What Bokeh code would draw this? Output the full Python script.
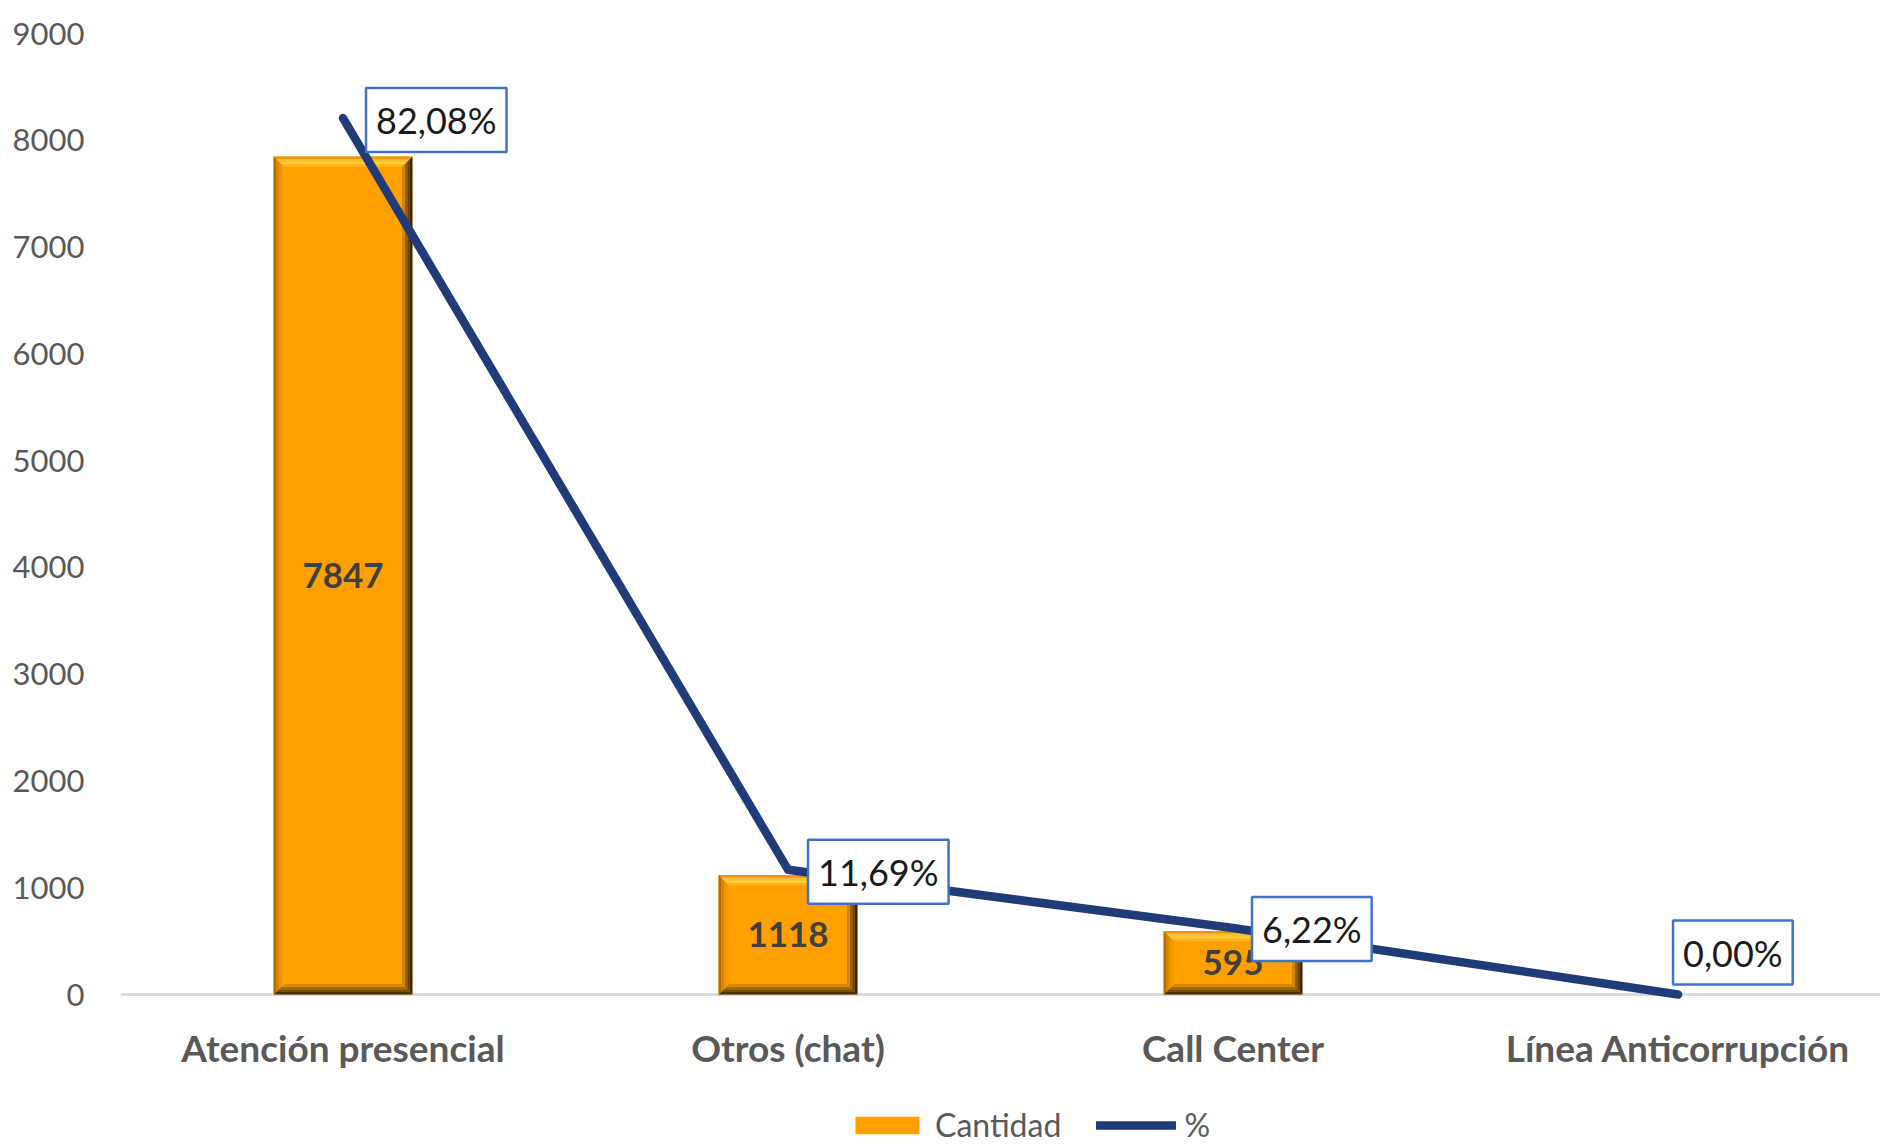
import numpy as np
from bokeh.plotting import figure
from bokeh.models import Range1d, FixedTicker, Label, Legend, LegendItem, Span
from bokeh.core.properties import value
from bokeh.embed import file_html
from bokeh.resources import INLINE

# ---- data ----
categories = ["Atención presencial", "Otros (chat)", "Call Center", "Línea Anticorrupción"]
cantidad = [7847, 1118, 595, 0]
porcentaje = [0.8208, 0.1169, 0.0622, 0.0]
pct_labels = ["82,08%", "11,69%", "6,22%", "0,00%"]
y_ticks = [0, 1000, 2000, 3000, 4000, 5000, 6000, 7000, 8000, 9000]

# ---- style / layout ----
FONT = "Lato"
GRAY = "#595959"
W, H = 1880, 1144
TOP_PX = 33          # screen y of 9000
ZERO_PX = 994        # screen y of 0
LEFT_PX = 120
X_LO, X_HI = -0.5, 3.455
Y_MAX = 9000
PCT_MAX = 0.9
BAR_W = 0.312
lab_dx = [23, 20, 19, -5]
lab_dy = [-2, -2, -1, 42]
# bevel bands (outer -> inner), width in px each
BAND_PX = 2.6
bev_top = ["#E89A00", "#FFC02E", "#FFD13C", "#FFB41A"]
bev_left = ["#B06C00", "#D08400", "#EC9400", "#F89C00"]
bev_right = ["#3A2400", "#664000", "#9A6000", "#D08400"]
bev_bottom = ["#463000", "#755000", "#A46C00", "#D48A00"]

plot_px = ZERO_PX - TOP_PX
below_px = H - ZERO_PX
y_lo = -below_px * Y_MAX / plot_px
pct_lo = -below_px * PCT_MAX / plot_px
ux = (X_HI - X_LO) / (W - LEFT_PX)   # data units per px (x)
uy = Y_MAX / plot_px                 # data units per px (y)

xs = np.arange(len(categories), dtype=float)
vals = np.array(cantidad, dtype=float)

p = figure(width=W, height=H,
           x_range=Range1d(X_LO, X_HI), y_range=Range1d(y_lo, Y_MAX),
           output_backend="svg", toolbar_location=None,
           min_border_left=LEFT_PX, min_border_right=0,
           min_border_top=TOP_PX, min_border_bottom=0)
p.extra_y_ranges = {"pct": Range1d(pct_lo, PCT_MAX)}
p.outline_line_color = None
p.xgrid.grid_line_color = None
p.ygrid.grid_line_color = None
p.background_fill_color = "white"
p.xaxis.visible = False

# y axis
p.yaxis.ticker = FixedTicker(ticks=y_ticks)
p.yaxis.axis_line_color = None
p.yaxis.major_tick_line_color = None
p.yaxis.minor_tick_line_color = None
p.yaxis.major_label_standoff = 30
p.yaxis.major_label_text_font = FONT
p.yaxis.major_label_text_font_size = "31px"
p.yaxis.major_label_text_color = GRAY

# category axis baseline + labels
p.add_layout(Span(location=0, dimension="width", line_color="#D9D9D9",
                  line_width=3, level="underlay"))
p.text(x=xs, y=np.zeros(len(xs)), text=categories, y_offset=53,
       text_font=value(FONT), text_font_style="bold", text_font_size="37px",
       text_color=GRAY, text_align="center", text_baseline="middle")

# bars with bevel effect
m = vals > 0
bx = xs[m]
bv = vals[m]
bars = p.vbar(x=bx, top=bv, width=BAR_W, fill_color="#FFA000", line_color=None)

pxs, pys, pcols = [], [], []
for cx, top in zip(bx, bv):
    L, R, B, T = cx - BAR_W / 2, cx + BAR_W / 2, 0.0, top
    for k in range(len(bev_top)):
        a, b = k * BAND_PX, (k + 1) * BAND_PX
        ax_, ay_, bx_, by_ = a * ux, a * uy, b * ux, b * uy
        # top
        pxs.append([L + ax_, R - ax_, R - bx_, L + bx_]); pys.append([T - ay_, T - ay_, T - by_, T - by_]); pcols.append(bev_top[k])
        # bottom
        pxs.append([L + ax_, R - ax_, R - bx_, L + bx_]); pys.append([B + ay_, B + ay_, B + by_, B + by_]); pcols.append(bev_bottom[k])
        # left
        pxs.append([L + ax_, L + bx_, L + bx_, L + ax_]); pys.append([B + ay_, B + by_, T - by_, T - ay_]); pcols.append(bev_left[k])
        # right
        pxs.append([R - ax_, R - bx_, R - bx_, R - ax_]); pys.append([B + ay_, B + by_, T - by_, T - ay_]); pcols.append(bev_right[k])
p.patches(xs=pxs, ys=pys, fill_color=pcols, line_color=None)

# bar value labels
p.text(x=bx, y=bv / 2, text=[str(int(v)) for v in bv],
       text_font=value(FONT), text_font_style="bold", text_font_size="35px",
       text_color="#404040", text_align="center", text_baseline="middle")

# percentage line
line = p.line(x=xs, y=porcentaje, y_range_name="pct", line_color="#1F3B78",
              line_width=8.5, line_cap="round", line_join="round")

for i in range(len(categories)):
    p.add_layout(Label(x=xs[i], y=porcentaje[i], y_range_name="pct", text=pct_labels[i],
                       x_offset=lab_dx[i], y_offset=lab_dy[i],
                       text_align="left", text_baseline="middle",
                       text_font=FONT, text_font_size="36px", text_color="#1A1A1A",
                       background_fill_color="white", border_line_color="#4472C4",
                       border_line_width=2.5, padding=10))

legend = Legend(items=[LegendItem(label="Cantidad", renderers=[bars]),
                       LegendItem(label="%", renderers=[line])],
                orientation="horizontal", location=(727, 0),
                glyph_width=80, glyph_height=22, label_standoff=8, spacing=35,
                padding=0, margin=0,
                label_text_font=FONT, label_text_font_size="32px", label_text_color=GRAY,
                border_line_color=None, background_fill_alpha=0)
p.add_layout(legend)

open("out.html", "w").write(file_html(p, INLINE))
